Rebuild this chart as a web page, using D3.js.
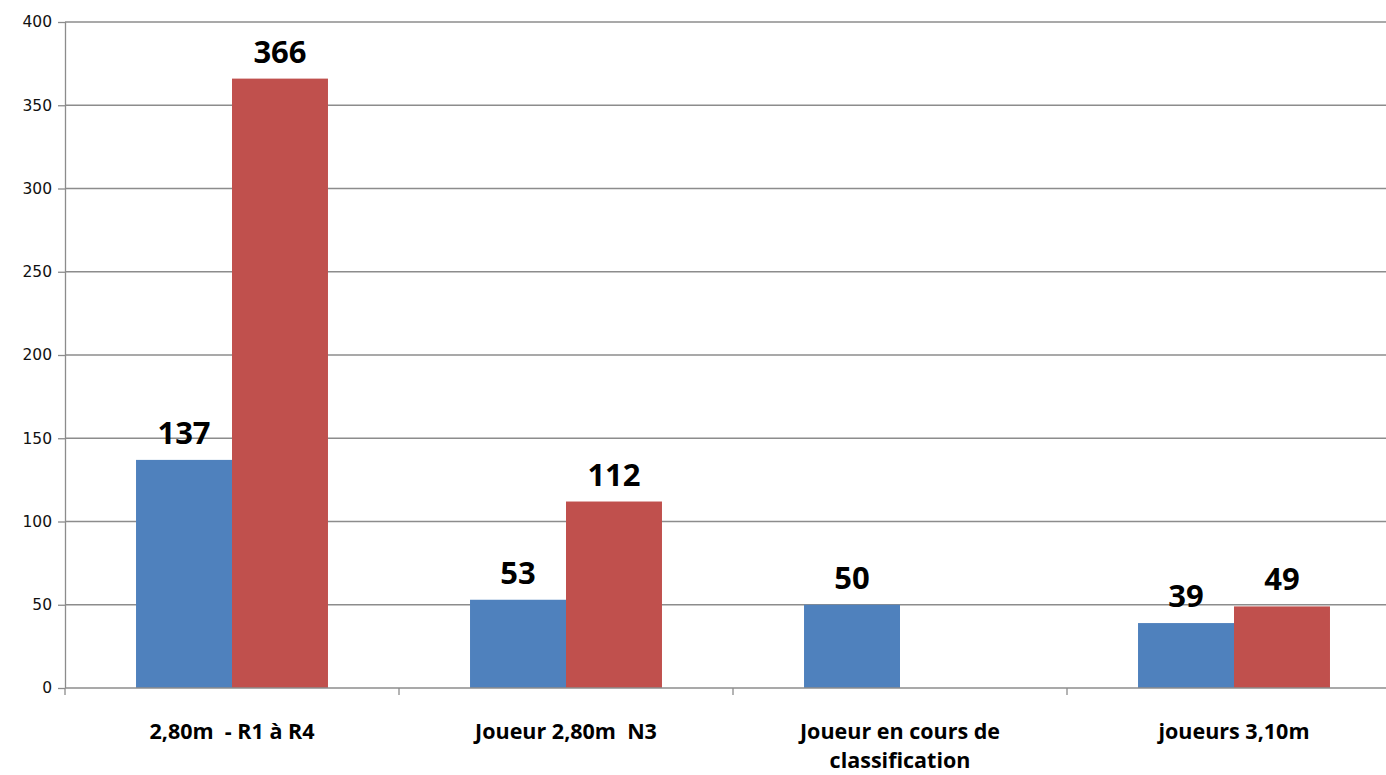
<!DOCTYPE html>
<html lang="fr">
<head>
    <meta charset="UTF-8">
    <title>Joueurs par catégorie</title>
    <script src="https://d3js.org/d3.v7.min.js"></script>
    <style>
        body { margin: 0; background: #fff; overflow: hidden; }
        svg { display: block; }
        .tick text { font-family: "DejaVu Sans", Verdana, sans-serif; font-size: 15.5px; fill: #111; }
        .grid line { stroke: #8c8c8c; stroke-width: 1.3px; }
        .axis path, .axis line { stroke: #8c8c8c; stroke-width: 1.3px; }
        .value { font-family: "Open Sans", sans-serif; font-weight: bold; font-size: 31px; fill: #000; text-anchor: middle; }
        .cat { font-family: "Open Sans", sans-serif; font-weight: bold; font-size: 21.5px; fill: #000; text-anchor: middle; white-space: pre; }
    </style>
</head>
<body>
<svg id="chart" width="1386" height="775"></svg>
<script>
    const categories = ["2,80m  - R1 à R4", "Joueur 2,80m  N3", "Joueur en cours de|classification", "joueurs 3,10m"];
    const seriesA = [137, 53, 50, 39];
    const seriesB = [366, 112, null, 49];
    const yTicks = [0, 50, 100, 150, 200, 250, 300, 350, 400];
    const colors = ["#4f81bd", "#c0504d"];

    const svg = d3.select("#chart");
    const mLeft = 65, mTop = 22, mBottom = 688, mRight = 1401;

    const x = d3.scaleBand().domain(categories).range([mLeft, mRight]);
    const sub = d3.scaleBand().domain([0, 1]).range([0, x.bandwidth()]).paddingOuter(0.74).paddingInner(0);
    const y = d3.scaleLinear().domain([0, 400]).range([mBottom, mTop]);

    // gridlines
    svg.append("g").attr("class", "grid")
        .selectAll("line").data(yTicks.slice(1)).enter().append("line")
        .attr("x1", mLeft).attr("x2", mRight)
        .attr("y1", d => y(d)).attr("y2", d => y(d));

    // y axis
    const yAxis = svg.append("g").attr("class", "axis")
        .attr("transform", `translate(${mLeft},0)`)
        .call(d3.axisLeft(y).tickValues(yTicks).tickSize(7).tickSizeOuter(0).tickPadding(6));
    yAxis.select(".domain").attr("d", `M0.5,${mTop}V${mBottom}`);

    // bars
    const series = [seriesA, seriesB];
    series.forEach((vals, s) => {
        const g = svg.append("g");
        vals.forEach((v, i) => {
            if (v == null) return;
            const bx = x(categories[i]) + sub(s);
            g.append("rect")
                .attr("x", bx).attr("y", y(v))
                .attr("width", sub.bandwidth()).attr("height", y(0) - y(v))
                .attr("fill", colors[s]);
            g.append("text").attr("class", "value")
                .attr("x", bx + sub.bandwidth() / 2)
                .attr("y", y(v) - 16)
                .text(v);
        });
    });

    // x axis
    const xg = svg.append("g").attr("class", "axis");
    xg.append("line").attr("x1", mLeft).attr("x2", mRight).attr("y1", mBottom).attr("y2", mBottom);
    xg.selectAll(".xt").data(categories.concat([null])).enter().append("line")
        .attr("x1", (d, i) => mLeft + i * x.step()).attr("x2", (d, i) => mLeft + i * x.step())
        .attr("y1", mBottom).attr("y2", mBottom + 7);

    svg.append("g").selectAll("text").data(categories).enter().append("text")
        .attr("class", "cat")
        .attr("x", d => x(d) + x.bandwidth() / 2)
        .attr("y", 739)
        .each(function(d) {
            d.split("|").forEach((line, k) => {
                d3.select(this).append("tspan")
                    .attr("x", x(d) + x.bandwidth() / 2)
                    .attr("dy", k === 0 ? 0 : 29)
                    .text(line);
            });
        });
</script>
</body>
</html>
